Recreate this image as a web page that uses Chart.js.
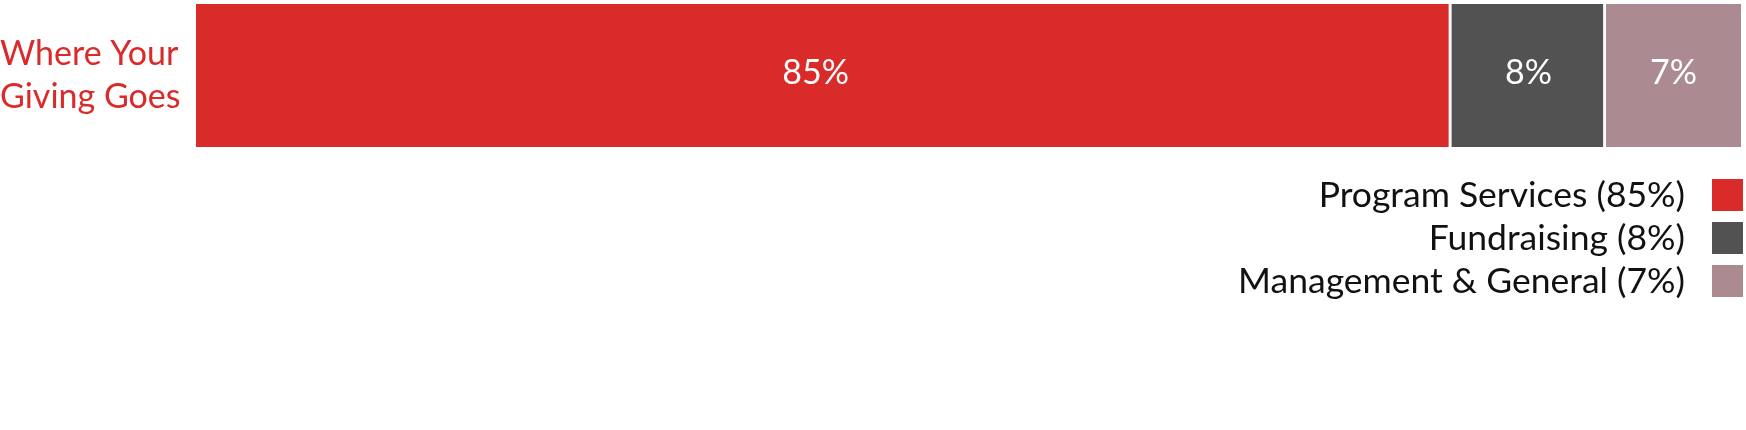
<!DOCTYPE html>
<html>
<head>
<meta charset="utf-8">
<script src="https://cdn.jsdelivr.net/npm/chart.js@4.4.1/dist/chart.umd.min.js"></script>
<style>
  html, body { margin: 0; padding: 0; background: #fff; }
  #wrap { width: 1746px; height: 430px; position: relative; }
</style>
</head>
<body>
<div id="wrap"><canvas id="grafico"></canvas></div>
<script>
const categorias = [['Where Your', 'Giving Goes']];
const series = ['Program Services', 'Fundraising', 'Management & General'];
const valores = [85, 8, 7];
const cores = ['#d92b2a', '#525252', '#ab8b91'];

// rotulos dentro das barras
const rotulosBarras = {
  id: 'rotulosBarras',
  afterDatasetsDraw(chart) {
    const ctx = chart.ctx;
    const area = chart.chartArea;
    ctx.save();
    ctx.fillStyle = '#fff';
    ctx.font = '34px Lato';
    ctx.textAlign = 'center';
    ctx.textBaseline = 'middle';
    chart.data.datasets.forEach((ds, i) => {
      const bar = chart.getDatasetMeta(i).data[0];
      const inicio = Math.max(bar.base, area.left);
      const cx = (inicio + bar.x) / 2;
      ctx.fillText(ds.data[0] + '%', cx - (i === 0 ? 8 : 0), bar.y - 2);
    });
    ctx.restore();
  }
};

// legenda a direita, caixa depois do texto
const legendaDireita = {
  id: 'legendaDireita',
  afterDraw(chart) {
    const ctx = chart.ctx;
    const area = chart.chartArea;
    ctx.save();
    ctx.font = '35.5px Lato';
    ctx.textAlign = 'right';
    ctx.textBaseline = 'middle';
    chart.data.datasets.forEach((ds, i) => {
      const y = area.bottom + 48 + i * 43;
      ctx.fillStyle = ds.backgroundColor;
      ctx.fillRect(area.right - 29, y - 16, 31, 32);
      ctx.fillStyle = '#111';
      ctx.fillText(ds.label + ' (' + ds.data[0] + '%)', area.right - 56, y + 1);
    });
    ctx.restore();
  }
};

new Chart(document.getElementById('grafico'), {
  type: 'bar',
  data: {
    labels: categorias,
    datasets: series.map((s, i) => ({
      label: s,
      data: [valores[i]],
      backgroundColor: cores[i],
      borderColor: '#fff',
      borderWidth: i < series.length - 1 ? { top: 0, bottom: 0, left: 0, right: 3 } : 0,
      borderSkipped: false,
      barPercentage: 1,
      categoryPercentage: 1
    }))
  },
  options: {
    indexAxis: 'y',
    responsive: true,
    maintainAspectRatio: false,
    animation: false,
    layout: { padding: { top: 4, right: 5, bottom: 283, left: 0 } },
    plugins: {
      legend: { display: false },
      tooltip: { enabled: false }
    },
    scales: {
      x: {
        stacked: true,
        display: false,
        min: 20,
        max: 100
      },
      y: {
        stacked: true,
        grid: { display: false },
        border: { display: false },
        ticks: {
          color: '#d92b2a',
          font: { family: 'Lato', size: 34, lineHeight: 1.26 },
          crossAlign: 'far',
          labelOffset: 0,
          padding: 0
        },
        afterFit(scale) {
          scale.width = 196;
          scale.paddingTop = 0;
          scale.paddingBottom = 0;
        }
      }
    }
  },
  plugins: [rotulosBarras, legendaDireita]
});
</script>
</body>
</html>
